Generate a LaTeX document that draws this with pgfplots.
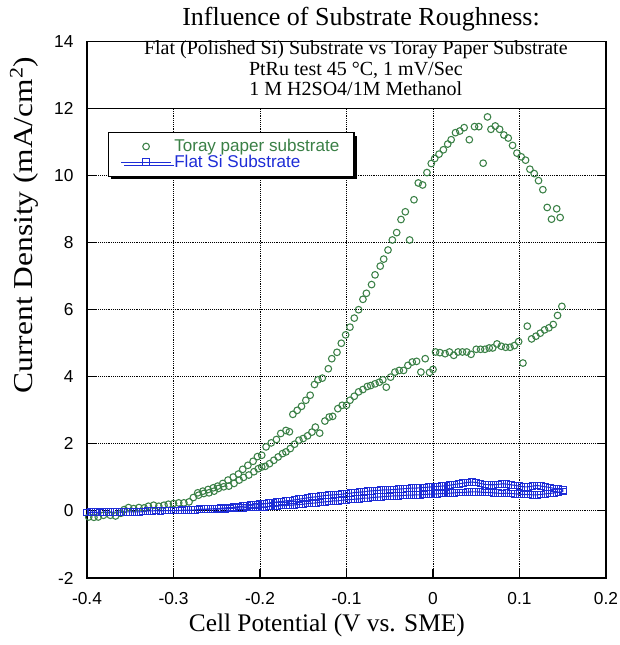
\documentclass[border=0pt]{standalone}
\usepackage{fontspec}
\setmainfont{Liberation Serif}
\setsansfont{Liberation Sans}
\usepackage{graphicx}
\usepackage{pgfplots}
\pgfplotsset{compat=1.18}
\usetikzlibrary{shadows}
\definecolor{torayg}{RGB}{58,128,70}
\definecolor{flatb}{RGB}{30,45,215}

\begin{document}
\begin{tikzpicture}
\useasboundingbox (-65.25pt,-50.25pt) rectangle (399.75pt,433.5pt);
\begin{axis}[
  scale only axis,
  width=389.25pt, height=402.4pt,
  xmin=-0.4, xmax=0.2, ymin=-2, ymax=14,
  xtick={-0.4,-0.3,-0.2,-0.1,0,0.1,0.2},
  ytick={-2,0,2,4,6,8,10,12,14},
  tick align=inside,
  major tick length=7pt,
  tick style={black, line width=0.8pt},
  axis line style={line width=0.8pt},
  grid=major,
  grid style={black, densely dotted, line width=0.65pt},
  clip=false,
  /pgf/number format/assume math mode=true,
  ticklabel style={font=\sffamily\fontsize{13}{13}\selectfont},
  xticklabel style={yshift=-7.5pt},
  yticklabel style={xshift=-6.6pt},
  title={Influence of Substrate Roughness:},
  title style={at={(axis description cs:0.528,1.014)}, anchor=base,
    font=\fontsize{19.5}{19.5}\selectfont},
  xlabel={Cell Potential (V vs. SME)},
  xlabel style={at={(axis description cs:0.462,-0.0876)}, anchor=center,
    font=\fontsize{19}{19}\selectfont},
  ylabel={\scalebox{1.15}[1]{Current Density (mA/cm\textsuperscript{2})}},
  ylabel style={at={(axis description cs:-0.121,0.658)}, anchor=center,
    font=\fontsize{20.5}{20.5}\selectfont},
  legend style={at={(axis description cs:0.0405,0.831)}, anchor=north west,
    draw=black, line width=0.8pt, fill=white,
    font=\sffamily\fontsize{12.8}{12.8}\selectfont,
    drop shadow={shadow xshift=2.2pt, shadow yshift=-2.2pt, fill=black, opacity=1},
    inner xsep=9pt, inner ysep=3pt,
    row sep=-3pt},
  legend cell align=left,
  legend image code/.code={\draw[mark repeat=2,mark phase=2,#1]
    plot coordinates {(0pt,0pt) (18.75pt,0pt) (37.5pt,0pt)};},
]
% Toray paper substrate: forward scan then reverse scan
\addplot[only marks, color=torayg, mark=o, mark size=2.5pt,
  mark options={line width=0.8pt}] coordinates {
(-0.398,-0.18) (-0.392,-0.19) (-0.387,-0.18) (-0.381,-0.13) (-0.373,-0.13)
(-0.367,-0.15) (-0.361,-0.07) (-0.357,0.04) (-0.352,0.10) (-0.346,0.07)
(-0.340,0.10) (-0.334,0.09) (-0.329,0.14) (-0.323,0.17) (-0.317,0.14)
(-0.311,0.17) (-0.306,0.20) (-0.300,0.22) (-0.294,0.24) (-0.288,0.24)
(-0.282,0.27) (-0.277,0.40) (-0.271,0.47) (-0.265,0.52) (-0.259,0.54)
(-0.253,0.59) (-0.248,0.67) (-0.242,0.72) (-0.236,0.74) (-0.230,0.82)
(-0.224,0.92) (-0.219,1.00) (-0.213,1.07) (-0.207,1.17) (-0.202,1.26)
(-0.198,1.31) (-0.194,1.33) (-0.189,1.41) (-0.184,1.51) (-0.179,1.61)
(-0.174,1.71) (-0.170,1.76) (-0.165,1.86) (-0.160,1.99) (-0.155,2.11)
(-0.150,2.16) (-0.145,2.24) (-0.140,2.35) (-0.136,2.50) (-0.131,2.32)
(-0.125,2.68) (-0.120,2.80) (-0.116,2.82) (-0.110,3.05) (-0.105,3.15)
(-0.100,3.15) (-0.096,3.30) (-0.091,3.42) (-0.086,3.55) (-0.081,3.62)
(-0.076,3.71) (-0.072,3.74) (-0.067,3.79) (-0.062,3.84) (-0.058,3.91)
(-0.054,3.69) (-0.049,3.99) (-0.044,4.14) (-0.039,4.19) (-0.034,4.19)
(-0.029,4.34) (-0.024,4.44) (-0.019,4.46) (-0.014,4.14) (-0.009,4.54)
(-0.004,4.13) (0.000,4.22) (0.003,4.74) (0.008,4.72) (0.014,4.69)
(0.019,4.74) (0.024,4.64) (0.029,4.74) (0.034,4.74) (0.039,4.74)
(0.044,4.67) (0.050,4.82) (0.055,4.82) (0.060,4.82) (0.065,4.86)
(0.069,4.86) (0.074,4.98) (0.079,4.91) (0.084,4.88) (0.089,4.88)
(0.094,4.93) (0.099,5.05) (0.104,4.41) (0.109,5.51) (0.114,5.13)
(0.119,5.21) (0.124,5.30) (0.129,5.40) (0.134,5.46) (0.139,5.56)
(0.144,5.83) (0.149,6.10)
(0.147,8.75) (0.143,9.01) (0.137,8.70) (0.132,9.05) (0.127,9.58)
(0.122,9.85) (0.117,10.06) (0.112,10.19) (0.107,10.46) (0.102,10.56)
(0.097,10.67) (0.092,10.90) (0.087,11.12) (0.082,11.21) (0.077,11.38)
(0.072,11.48) (0.067,11.38) (0.063,11.75) (0.058,10.37) (0.053,11.46)
(0.048,11.46) (0.042,11.07) (0.036,11.43) (0.031,11.33) (0.026,11.28)
(0.021,11.07) (0.017,10.94) (0.012,10.77) (0.007,10.64) (0.002,10.51)
(-0.002,10.36) (-0.007,10.09) (-0.012,9.72) (-0.017,9.78) (-0.022,9.28)
(-0.027,8.08) (-0.032,8.92) (-0.037,8.69) (-0.042,8.30) (-0.047,8.08)
(-0.052,7.78) (-0.057,7.51) (-0.061,7.30) (-0.067,7.04) (-0.071,6.75)
(-0.077,6.49) (-0.081,6.31) (-0.086,6.00) (-0.091,5.75) (-0.096,5.48)
(-0.101,5.25) (-0.106,5.00) (-0.111,4.73) (-0.117,4.54) (-0.121,4.24)
(-0.128,3.96) (-0.133,3.91) (-0.137,3.77) (-0.142,3.45) (-0.147,3.30)
(-0.152,3.12) (-0.157,3.00) (-0.162,2.88) (-0.166,2.36) (-0.170,2.40)
(-0.176,2.31) (-0.181,2.13) (-0.187,2.03) (-0.193,1.91) (-0.198,1.66)
(-0.203,1.62) (-0.208,1.48) (-0.214,1.36) (-0.220,1.24) (-0.225,1.10)
(-0.231,1.01) (-0.237,0.92) (-0.243,0.82) (-0.249,0.74) (-0.254,0.69)
(-0.260,0.64) (-0.266,0.59) (-0.272,0.54)
};
\addlegendentry{\textcolor{torayg}{Toray paper substrate}}
% Flat Si substrate: forward scan then reverse scan
\addplot[color=flatb, line width=0.8pt, mark=square, mark size=2.5pt] coordinates {
(-0.400,-0.05) (-0.395,-0.04) (-0.390,-0.04) (-0.385,-0.05) (-0.380,-0.04)
(-0.375,-0.04) (-0.370,-0.04) (-0.365,-0.03) (-0.360,-0.04) (-0.355,-0.03)
(-0.350,-0.03) (-0.345,-0.03) (-0.340,-0.03) (-0.335,-0.02) (-0.330,0.00)
(-0.325,0.00) (-0.320,0.01) (-0.315,0.00) (-0.310,0.01) (-0.305,0.01)
(-0.300,0.01) (-0.295,0.01) (-0.290,0.02) (-0.285,0.02) (-0.280,0.02)
(-0.275,0.03) (-0.270,0.05) (-0.265,0.05) (-0.260,0.05) (-0.255,0.06)
(-0.250,0.05) (-0.245,0.06) (-0.240,0.06) (-0.235,0.07) (-0.230,0.08)
(-0.225,0.09) (-0.220,0.09) (-0.215,0.10) (-0.210,0.10) (-0.205,0.11)
(-0.200,0.12) (-0.195,0.12) (-0.190,0.13) (-0.185,0.14) (-0.180,0.14)
(-0.175,0.16) (-0.170,0.16) (-0.165,0.17) (-0.160,0.18) (-0.155,0.19)
(-0.150,0.20) (-0.145,0.22) (-0.140,0.23) (-0.135,0.24) (-0.130,0.26)
(-0.125,0.27) (-0.120,0.28) (-0.115,0.30) (-0.110,0.30) (-0.105,0.32)
(-0.100,0.33) (-0.095,0.34) (-0.090,0.35) (-0.085,0.36) (-0.080,0.38)
(-0.075,0.38) (-0.070,0.40) (-0.065,0.41) (-0.060,0.42) (-0.055,0.43)
(-0.050,0.44) (-0.045,0.45) (-0.040,0.45) (-0.035,0.46) (-0.030,0.47)
(-0.025,0.47) (-0.020,0.48) (-0.015,0.48) (-0.010,0.49) (-0.005,0.50)
(0.000,0.50) (0.005,0.51) (0.010,0.52) (0.015,0.52) (0.020,0.53)
(0.025,0.54) (0.030,0.55) (0.035,0.55) (0.040,0.56) (0.045,0.57)
(0.050,0.57) (0.055,0.56) (0.060,0.55) (0.065,0.55) (0.070,0.54)
(0.075,0.53) (0.080,0.52) (0.085,0.53) (0.090,0.52) (0.095,0.51)
(0.100,0.50) (0.105,0.49) (0.110,0.49) (0.115,0.48) (0.120,0.48)
(0.125,0.49) (0.130,0.51) (0.135,0.52) (0.140,0.54) (0.145,0.56)
(0.150,0.58)
(0.150,0.63) (0.145,0.65) (0.140,0.67) (0.135,0.70) (0.130,0.72)
(0.125,0.74) (0.120,0.76) (0.115,0.74) (0.110,0.72) (0.105,0.72)
(0.100,0.74) (0.095,0.76) (0.090,0.78) (0.085,0.80) (0.080,0.81)
(0.075,0.79) (0.070,0.78) (0.065,0.78) (0.060,0.79) (0.055,0.82)
(0.050,0.85) (0.045,0.86) (0.040,0.85) (0.035,0.83) (0.030,0.81)
(0.025,0.79) (0.020,0.77) (0.015,0.75) (0.010,0.74) (0.005,0.73)
(0.000,0.72) (-0.005,0.71) (-0.010,0.70) (-0.015,0.69) (-0.020,0.68)
(-0.025,0.68) (-0.030,0.67) (-0.035,0.66) (-0.040,0.65) (-0.045,0.64)
(-0.050,0.63) (-0.055,0.63) (-0.060,0.62) (-0.065,0.61) (-0.070,0.60)
(-0.075,0.59) (-0.080,0.57) (-0.085,0.56) (-0.090,0.55) (-0.095,0.53)
(-0.100,0.52) (-0.105,0.50) (-0.110,0.49) (-0.115,0.48) (-0.120,0.47)
(-0.125,0.46) (-0.130,0.44) (-0.135,0.42) (-0.140,0.41) (-0.145,0.39)
(-0.150,0.37) (-0.155,0.35) (-0.160,0.33) (-0.165,0.31) (-0.170,0.30)
(-0.175,0.28) (-0.180,0.27) (-0.185,0.25) (-0.190,0.23) (-0.195,0.21)
(-0.200,0.20) (-0.205,0.18) (-0.210,0.17) (-0.215,0.15) (-0.220,0.14)
(-0.225,0.13) (-0.230,0.11) (-0.235,0.10) (-0.240,0.09) (-0.245,0.08)
(-0.250,0.07) (-0.255,0.06) (-0.260,0.06) (-0.265,0.05) (-0.270,0.04)
(-0.275,0.03) (-0.280,0.02) (-0.285,0.02) (-0.290,0.01) (-0.295,0.01)
(-0.300,0.01)
};
\addlegendentry{\textcolor{flatb}{Flat Si Substrate}}
% conditions box across the top of the plot
\draw[fill=white, line width=0.8pt] (axis cs:-0.4,12) rectangle (axis cs:0.2,14);
\node[anchor=base, font=\fontsize{15}{15}\selectfont] at (axis description cs:0.518,0.975)
  {Flat (Polished Si) Substrate vs Toray Paper Substrate};
\node[anchor=base, font=\fontsize{15}{15}\selectfont] at (axis description cs:0.518,0.936)
  {PtRu test 45 °C, 1 mV/Sec};
\node[anchor=base, font=\fontsize{15}{15}\selectfont] at (axis description cs:0.518,0.900)
  {1 M H2SO4/1M Methanol};
\end{axis}
\end{tikzpicture}
\end{document}
